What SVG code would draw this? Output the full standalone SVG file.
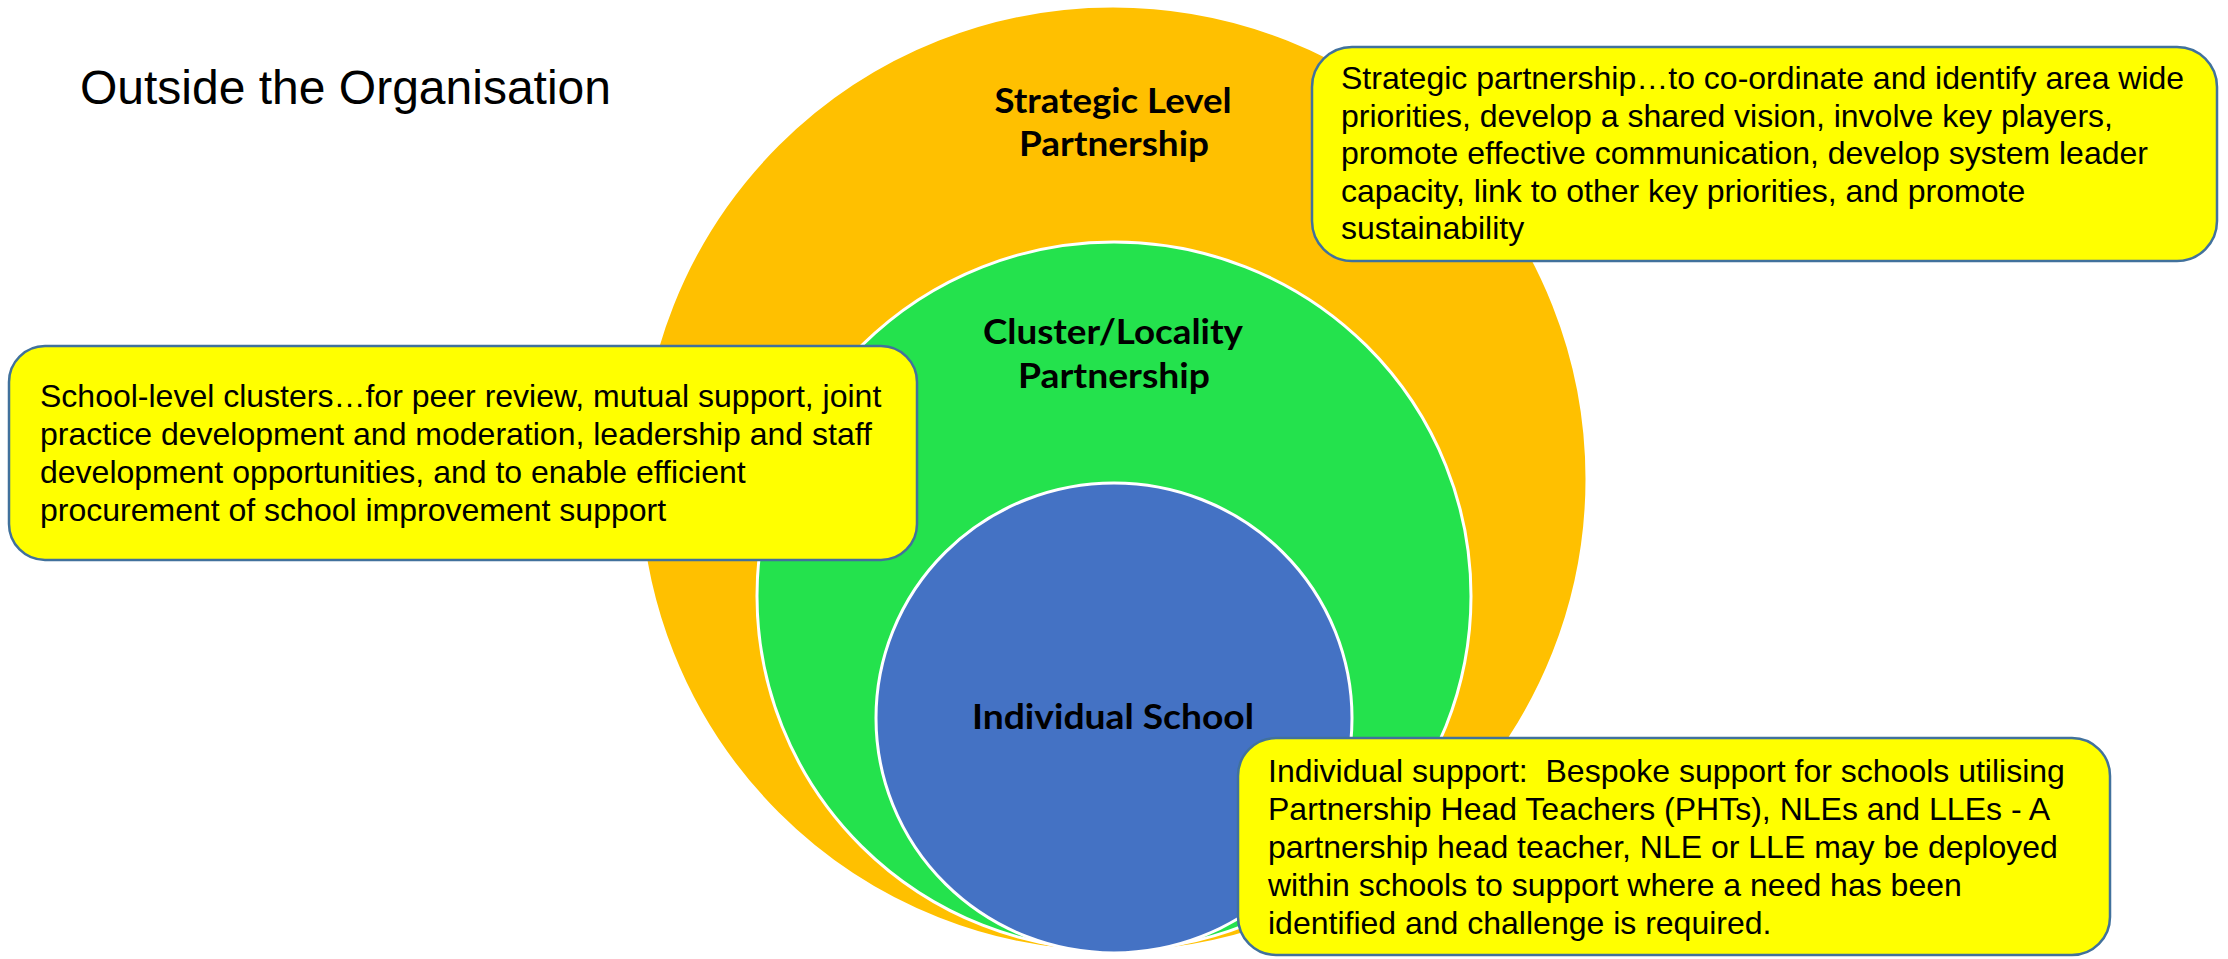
<svg xmlns="http://www.w3.org/2000/svg" width="2228" height="959" viewBox="0 0 2228 959">
  <style>
    .ring { stroke: #FFFFFF; stroke-width: 3; }
    .label { font-family: Lato, "Open Sans", "Liberation Sans", sans-serif; font-weight: 700; font-size: 35px; fill: #000000; text-anchor: middle; }
    .callout { fill: #FFFF00; stroke: #41719C; stroke-width: 2.5; }
    .body { font-family: "Liberation Sans", Arial, sans-serif; font-size: 32px; fill: #000000; }
    .title { font-family: "Liberation Sans", Arial, sans-serif; font-size: 48px; fill: #000000; }
  </style>
  <rect width="2228" height="959" fill="#FFFFFF"/>

  <text class="title" x="80" y="104">Outside the Organisation</text>

  <!-- nested partnership levels -->
  <g id="strategic-level">
    <ellipse class="ring" cx="1113" cy="479" rx="474" ry="473" fill="#FFC000"/>
    <text class="label" x="1113" y="113" textLength="237" lengthAdjust="spacingAndGlyphs">Strategic Level</text>
    <text class="label" x="1114" y="156" textLength="190" lengthAdjust="spacingAndGlyphs">Partnership</text>
  </g>

  <g id="cluster-level">
    <ellipse class="ring" cx="1114" cy="596" rx="357" ry="354" fill="#24E24D"/>
    <text class="label" x="1113" y="344" textLength="260" lengthAdjust="spacingAndGlyphs">Cluster/Locality</text>
    <text class="label" x="1114" y="388" textLength="192" lengthAdjust="spacingAndGlyphs">Partnership</text>
  </g>

  <g id="individual-school">
    <ellipse class="ring" cx="1114" cy="718" rx="238" ry="235" fill="#4472C4"/>
    <text class="label" x="1113" y="729" textLength="282" lengthAdjust="spacingAndGlyphs">Individual School</text>
  </g>

  <!-- description callouts -->
  <g id="strategic-callout">
    <rect class="callout" x="1312" y="47" width="905" height="214" rx="40" ry="40"/>
    <text class="body" x="1341" y="89">Strategic partnership…to co-ordinate and identify area wide</text>
    <text class="body" x="1341" y="126.5">priorities, develop a shared vision, involve key players,</text>
    <text class="body" x="1341" y="164">promote effective communication, develop system leader</text>
    <text class="body" x="1341" y="201.5">capacity, link to other key priorities, and promote</text>
    <text class="body" x="1341" y="239">sustainability</text>
  </g>

  <g id="cluster-callout">
    <rect class="callout" x="9" y="346" width="908" height="214" rx="36" ry="36"/>
    <text class="body" x="40" y="407">School-level clusters…for peer review, mutual support, joint</text>
    <text class="body" x="40" y="445">practice development and moderation, leadership and staff</text>
    <text class="body" x="40" y="483">development opportunities, and to enable efficient</text>
    <text class="body" x="40" y="521">procurement of school improvement support</text>
  </g>

  <g id="school-callout">
    <rect class="callout" x="1238" y="738" width="872" height="217" rx="38" ry="38"/>
    <text class="body" x="1268" y="782" xml:space="preserve">Individual support:  Bespoke support for schools utilising</text>
    <text class="body" x="1268" y="820">Partnership Head Teachers (PHTs), NLEs and LLEs - A</text>
    <text class="body" x="1268" y="858">partnership head teacher, NLE or LLE may be deployed</text>
    <text class="body" x="1268" y="896">within schools to support where a need has been</text>
    <text class="body" x="1268" y="934">identified and challenge is required.</text>
  </g>
</svg>
